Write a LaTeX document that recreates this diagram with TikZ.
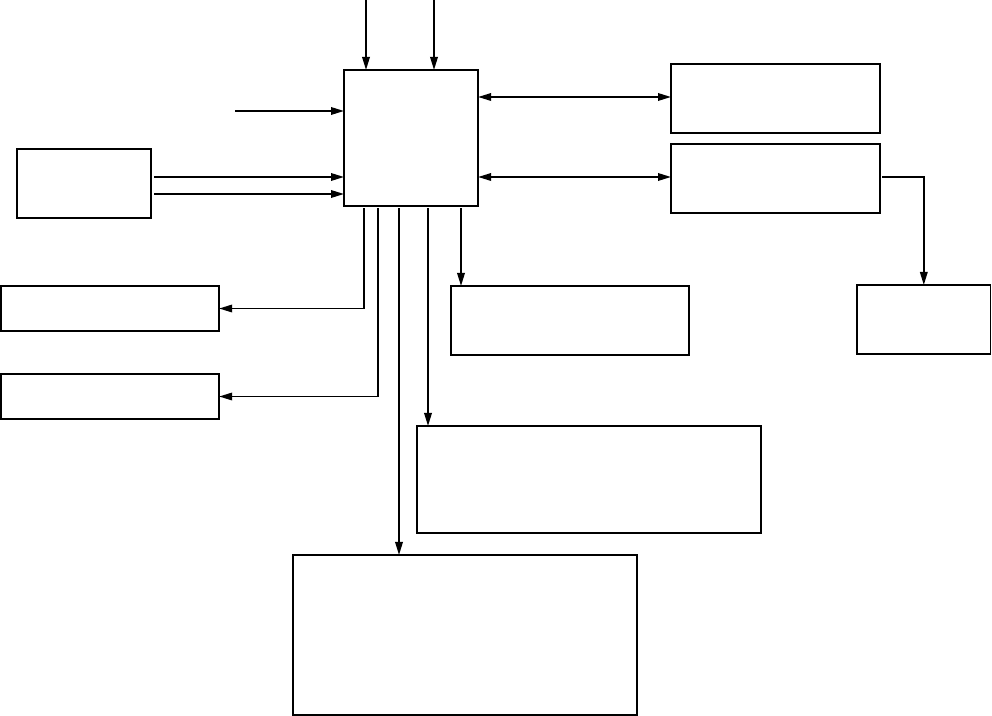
\documentclass[tikz,border=0pt]{standalone}
\usetikzlibrary{arrows.meta}
\begin{document}
\begin{tikzpicture}[x=0.01cm,y=-0.01cm,
  box/.style={draw,line width=0.5pt,inner sep=0pt,outer sep=0pt,anchor=north west},
  arr/.style={line width=0.5pt,-{Triangle[length=1.3mm,width=0.75mm]}},
  darr/.style={line width=0.5pt,{Triangle[length=1.3mm,width=0.75mm]}-{Triangle[length=1.3mm,width=0.75mm]}}]
\useasboundingbox (0,0) rectangle (992,716);
% boxes
\node[box,minimum width=1.34cm,minimum height=1.36cm] (c) at (344,70) {};
\node[box,minimum width=1.34cm,minimum height=0.69cm] (A) at (17,149) {};
\node[box,minimum width=2.09cm,minimum height=0.69cm] (R1) at (671,64) {};
\node[box,minimum width=2.09cm,minimum height=0.69cm] (R2) at (671,144) {};
\node[box,minimum width=1.335cm,minimum height=0.69cm] (R3) at (857,285) {};
\node[box,minimum width=2.38cm,minimum height=0.69cm] (B1) at (451,286) {};
\node[box,minimum width=2.18cm,minimum height=0.45cm] (L1) at (1,286) {};
\node[box,minimum width=2.18cm,minimum height=0.45cm] (L2) at (1,374) {};
\node[box,minimum width=3.44cm,minimum height=1.07cm] (B2) at (417,426) {};
\node[box,minimum width=3.44cm,minimum height=1.60cm] (B3) at (293,555) {};
% free ends
\coordinate (t1) at (366,0);
\coordinate (t2) at (434,0);
\coordinate (l0) at (235,111);
% connectors
\draw[arr] (t1) -- (t1 |- c.north);
\draw[arr] (t2) -- (t2 |- c.north);
\draw[arr] (l0) -- (l0 -| c.west);
\draw[arr] ([xshift=0.03cm]A.east |- 0,177) -- (c.west |- 0,177);
\draw[arr] ([xshift=0.03cm]A.east |- 0,194) -- (c.west |- 0,194);
\draw[darr] (c.east |- 0,97) -- (R1.west |- 0,97);
\draw[darr] (c.east |- 0,177) -- (R2.west |- 0,177);
\draw[arr] ([xshift=0.02cm]R2.east |- 0,177) -| (R3.north);
\draw[arr] ([yshift=-0.02cm]c.south -| 364,0) |- (L1.east);
\draw[arr] ([yshift=-0.02cm]c.south -| 378,0) |- (L2.east);
\draw[arr] ([yshift=-0.02cm]c.south -| 461,0) -- (461,0 |- B1.north);
\draw[arr] ([yshift=-0.02cm]c.south -| 428,0) -- (428,0 |- B2.north);
\draw[arr] ([yshift=-0.02cm]c.south -| 399,0) -- (399,0 |- B3.north);
\end{tikzpicture}
\end{document}
